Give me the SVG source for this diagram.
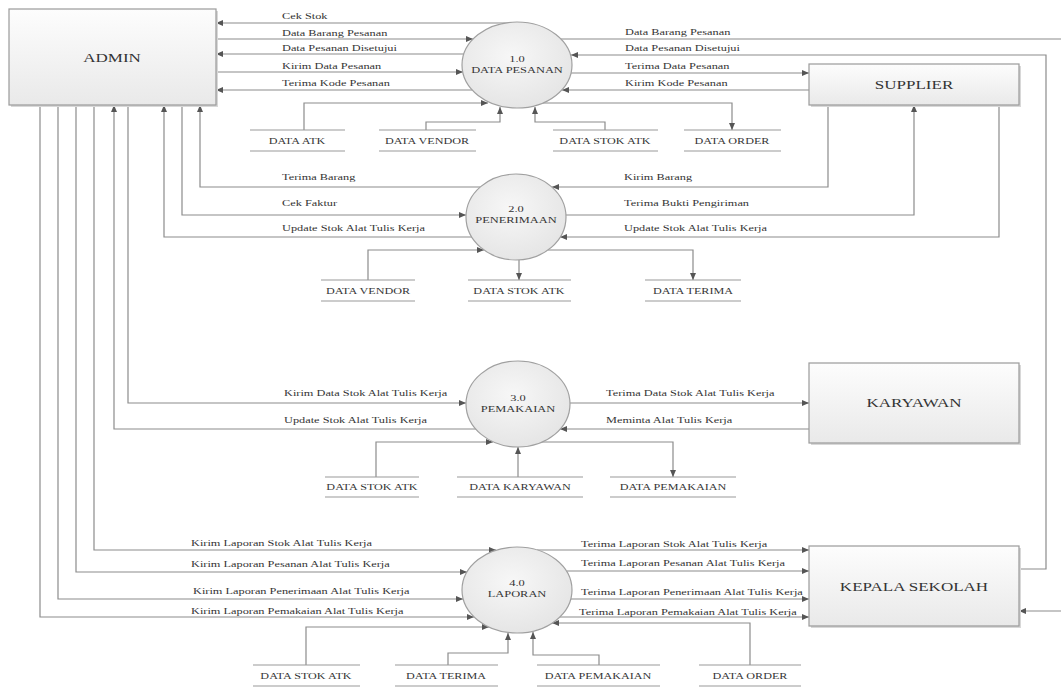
<svg xmlns="http://www.w3.org/2000/svg" width="1061" height="687" viewBox="0 0 1061 687">
<style>
text{font-family:"Liberation Serif","Times New Roman",serif;fill:#333}
.lbl{font-size:8.5px}
.ent{font-size:12px;text-anchor:middle}
.prc{font-size:9px;text-anchor:middle}
.ds{font-size:9px;text-anchor:middle}
.box{fill:url(#gBox);stroke:#9a9a9a;stroke-width:1.2}
.shd{fill:#d8d8d8}
.cir{fill:url(#gCir);stroke:#a0a0a0;stroke-width:1.2}
.dsl{stroke:#9a9a9a;stroke-width:1.2}
#connectors path{fill:none;stroke:#8c8c8c;stroke-width:1.2}
.a{marker-end:url(#arr)}
</style>
<defs>
<linearGradient id="gBox" x1="0" y1="0" x2="0" y2="1"><stop offset="0" stop-color="#fdfdfd"/><stop offset="1" stop-color="#e9e9e9"/></linearGradient>
<radialGradient id="gCir" cx="0.45" cy="0.4" r="0.65"><stop offset="0" stop-color="#f7f7f7"/><stop offset="1" stop-color="#e4e4e4"/></radialGradient>
<marker id="arr" markerUnits="userSpaceOnUse" markerWidth="7" markerHeight="6" refX="7" refY="3" orient="auto"><path d="M0,0 L7,3 L0,6 z" fill="#555"/></marker>
</defs>
<rect width="1061" height="687" fill="#fff"/>

<g id="connectors">
<!-- Process 1 left -->
<path class="a" d="M510,23 H216"/>
<path class="a" d="M216,39 H473"/>
<path class="a" d="M464,54 H216"/>
<path class="a" d="M216,72 H463"/>
<path class="a" d="M472,90 H216"/>
<!-- Process 1 right -->
<path class="a" d="M561,39 H1066 V611 H1019"/>
<path class="a" d="M1019,569 H1046 V55 H571"/>
<path class="a" d="M571,73 H809"/>
<path class="a" d="M809,90 H562"/>
<!-- Process 1 stores -->
<path class="a" d="M304,130 V103 H488"/>
<path class="a" d="M426,130 V122 H500 V107"/>
<path class="a" d="M605,130 V122 H535 V107"/>
<path class="a" d="M543,103 H732 V130"/>
<!-- Process 2 -->
<path class="a" d="M480,187 H200 V105"/>
<path class="a" d="M182,105 V215 H466"/>
<path class="a" d="M472,237 H164 V105"/>
<path class="a" d="M828,105 V187 H552"/>
<path class="a" d="M566,215 H914 V105"/>
<path class="a" d="M999,105 V237 H560"/>
<path class="a" d="M368,280 V250 H484"/>
<path class="a" d="M519,260 V280"/>
<path class="a" d="M548,250 H693 V280"/>
<!-- Process 3 -->
<path class="a" d="M128,105 V403 H466"/>
<path class="a" d="M476,429 H114 V105"/>
<path class="a" d="M570,403 H809"/>
<path class="a" d="M809,429 H560"/>
<path class="a" d="M376,477 V442 H493"/>
<path class="a" d="M518,477 V447"/>
<path class="a" d="M542,442 H673 V477"/>
<!-- Process 4 -->
<path class="a" d="M94,105 V550 H496"/>
<path class="a" d="M76,105 V572 H467"/>
<path class="a" d="M58,105 V599 H463"/>
<path class="a" d="M40,105 V617 H474"/>
<path class="a" d="M537,550 H809"/>
<path class="a" d="M567,571 H809"/>
<path class="a" d="M571,599 H809"/>
<path class="a" d="M560,617 H809"/>
<path class="a" d="M306,665 V627 H489"/>
<path class="a" d="M448,665 V653 H508 V633"/>
<path class="a" d="M599,665 V655 H533 V632"/>
<path class="a" d="M750,665 V623 H552"/>
</g>

<g id="labels">
<text class="lbl" transform="translate(282,19) scale(1.45,1)">Cek Stok</text>
<text class="lbl" transform="translate(282,36) scale(1.45,1)">Data Barang Pesanan</text>
<text class="lbl" transform="translate(282,51) scale(1.45,1)">Data Pesanan Disetujui</text>
<text class="lbl" transform="translate(282,69) scale(1.45,1)">Kirim Data Pesanan</text>
<text class="lbl" transform="translate(282,86) scale(1.45,1)">Terima Kode Pesanan</text>
<text class="lbl" transform="translate(625,35) scale(1.45,1)">Data Barang Pesanan</text>
<text class="lbl" transform="translate(625,51) scale(1.45,1)">Data Pesanan Disetujui</text>
<text class="lbl" transform="translate(625,69) scale(1.45,1)">Terima Data Pesanan</text>
<text class="lbl" transform="translate(625,86) scale(1.45,1)">Kirim Kode Pesanan</text>
<text class="lbl" transform="translate(282,180) scale(1.45,1)">Terima Barang</text>
<text class="lbl" transform="translate(282,206) scale(1.45,1)">Cek Faktur</text>
<text class="lbl" transform="translate(282,231) scale(1.45,1)">Update Stok Alat Tulis Kerja</text>
<text class="lbl" transform="translate(624,180) scale(1.45,1)">Kirim Barang</text>
<text class="lbl" transform="translate(624,206) scale(1.45,1)">Terima Bukti Pengiriman</text>
<text class="lbl" transform="translate(624,231) scale(1.45,1)">Update Stok Alat Tulis Kerja</text>
<text class="lbl" transform="translate(284,396) scale(1.45,1)">Kirim Data Stok Alat Tulis Kerja</text>
<text class="lbl" transform="translate(284,423) scale(1.45,1)">Update Stok Alat Tulis Kerja</text>
<text class="lbl" transform="translate(606,396) scale(1.45,1)">Terima Data Stok Alat Tulis Kerja</text>
<text class="lbl" transform="translate(606,423) scale(1.45,1)">Meminta Alat Tulis Kerja</text>
<text class="lbl" transform="translate(191,546) scale(1.45,1)">Kirim Laporan Stok Alat Tulis Kerja</text>
<text class="lbl" transform="translate(191,567) scale(1.45,1)">Kirim Laporan Pesanan Alat Tulis Kerja</text>
<text class="lbl" transform="translate(193,594) scale(1.45,1)">Kirim Laporan Penerimaan Alat Tulis Kerja</text>
<text class="lbl" transform="translate(191,614) scale(1.45,1)">Kirim Laporan Pemakaian Alat Tulis Kerja</text>
<text class="lbl" transform="translate(581,547) scale(1.45,1)">Terima Laporan Stok Alat Tulis Kerja</text>
<text class="lbl" transform="translate(581,566) scale(1.45,1)">Terima Laporan Pesanan Alat Tulis Kerja</text>
<text class="lbl" transform="translate(581,595) scale(1.45,1)">Terima Laporan Penerimaan Alat Tulis Kerja</text>
<text class="lbl" transform="translate(579,615) scale(1.45,1)">Terima Laporan Pemakaian Alat Tulis Kerja</text>
</g>

<g id="admin">
<rect class="shd" x="11" y="11" width="207" height="96"/>
<rect class="box" x="9" y="9" width="207" height="96"/>
<text class="ent" transform="translate(112,62) scale(1.42,1)">ADMIN</text>
</g>
<g id="supplier">
<rect class="shd" x="811" y="66" width="210" height="41"/>
<rect class="box" x="809" y="64" width="210" height="41"/>
<text class="ent" transform="translate(914,89) scale(1.42,1)">SUPPLIER</text>
</g>
<g id="karyawan">
<rect class="shd" x="811" y="365" width="210" height="80"/>
<rect class="box" x="809" y="363" width="210" height="80"/>
<text class="ent" transform="translate(914,407) scale(1.42,1)">KARYAWAN</text>
</g>
<g id="kepala-sekolah">
<rect class="shd" x="811" y="548" width="210" height="80"/>
<rect class="box" x="809" y="546" width="210" height="80"/>
<text class="ent" transform="translate(914,591) scale(1.42,1)">KEPALA SEKOLAH</text>
</g>

<g id="p1">
<ellipse class="cir" cx="517" cy="65" rx="55" ry="43"/>
<text class="prc" transform="translate(517,62) scale(1.38,1)">1.0</text>
<text class="prc" transform="translate(517,73) scale(1.38,1)">DATA PESANAN</text>
</g>
<g id="p2">
<ellipse class="cir" cx="516" cy="217" rx="50" ry="43"/>
<text class="prc" transform="translate(516,212) scale(1.38,1)">2.0</text>
<text class="prc" transform="translate(516,223) scale(1.38,1)">PENERIMAAN</text>
</g>
<g id="p3">
<ellipse class="cir" cx="518" cy="404" rx="52" ry="43"/>
<text class="prc" transform="translate(518,401) scale(1.38,1)">3.0</text>
<text class="prc" transform="translate(518,412) scale(1.38,1)">PEMAKAIAN</text>
</g>
<g id="p4">
<ellipse class="cir" cx="517" cy="590" rx="55" ry="43"/>
<text class="prc" transform="translate(517,586) scale(1.38,1)">4.0</text>
<text class="prc" transform="translate(517,597) scale(1.38,1)">LAPORAN</text>
</g>

<g id="ds1-atk"><path class="dsl" d="M250,130 H345 M250,151 H345"/><text class="ds" transform="translate(297,144) scale(1.35,1)">DATA ATK</text></g>
<g id="ds1-vendor"><path class="dsl" d="M379,130 H476 M379,151 H476"/><text class="ds" transform="translate(427,144) scale(1.35,1)">DATA VENDOR</text></g>
<g id="ds1-stok"><path class="dsl" d="M553,130 H658 M553,151 H658"/><text class="ds" transform="translate(605,144) scale(1.35,1)">DATA STOK ATK</text></g>
<g id="ds1-order"><path class="dsl" d="M684,130 H781 M684,151 H781"/><text class="ds" transform="translate(732,144) scale(1.35,1)">DATA ORDER</text></g>

<g id="ds2-vendor"><path class="dsl" d="M321,280 H415 M321,301 H415"/><text class="ds" transform="translate(368,294) scale(1.35,1)">DATA VENDOR</text></g>
<g id="ds2-stok"><path class="dsl" d="M468,280 H571 M468,301 H571"/><text class="ds" transform="translate(519,294) scale(1.35,1)">DATA STOK ATK</text></g>
<g id="ds2-terima"><path class="dsl" d="M645,280 H741 M645,301 H741"/><text class="ds" transform="translate(693,294) scale(1.35,1)">DATA TERIMA</text></g>

<g id="ds3-stok"><path class="dsl" d="M325,477 H419 M325,497 H419"/><text class="ds" transform="translate(372,490) scale(1.35,1)">DATA STOK ATK</text></g>
<g id="ds3-karyawan"><path class="dsl" d="M457,477 H583 M457,497 H583"/><text class="ds" transform="translate(520,490) scale(1.35,1)">DATA KARYAWAN</text></g>
<g id="ds3-pemakaian"><path class="dsl" d="M610,477 H736 M610,497 H736"/><text class="ds" transform="translate(673,490) scale(1.35,1)">DATA PEMAKAIAN</text></g>

<g id="ds4-stok"><path class="dsl" d="M253,665 H360 M253,686 H360"/><text class="ds" transform="translate(306,679) scale(1.35,1)">DATA STOK ATK</text></g>
<g id="ds4-terima"><path class="dsl" d="M395,665 H498 M395,686 H498"/><text class="ds" transform="translate(446,679) scale(1.35,1)">DATA TERIMA</text></g>
<g id="ds4-pemakaian"><path class="dsl" d="M537,665 H660 M537,686 H660"/><text class="ds" transform="translate(598,679) scale(1.35,1)">DATA PEMAKAIAN</text></g>
<g id="ds4-order"><path class="dsl" d="M699,665 H801 M699,686 H801"/><text class="ds" transform="translate(750,679) scale(1.35,1)">DATA ORDER</text></g>
</svg>
